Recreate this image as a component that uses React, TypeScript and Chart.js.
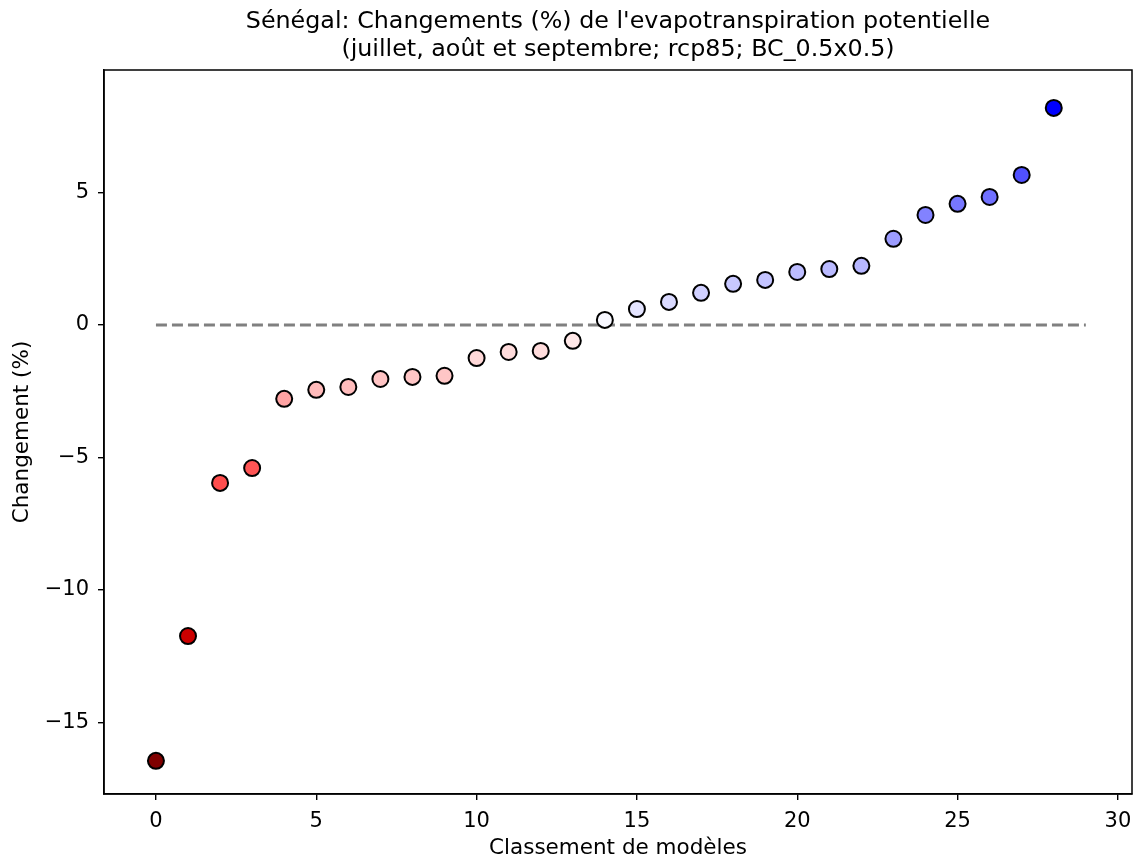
import React, { useEffect, useRef } from 'react';
import { Chart, registerables } from 'chart.js';

Chart.register(...registerables);

const ranks = [0, 1, 2, 3, 4, 5, 6, 7, 8, 9, 10, 11, 12, 13, 14, 15, 16, 17, 18, 19, 20, 21, 22, 23, 24, 25, 26, 27, 28];
const changes = [
  -16.45, -11.74, -5.96, -5.40, -2.79, -2.45, -2.34, -2.04, -1.96, -1.92,
  -1.25, -1.02, -0.98, -0.60, 0.19, 0.60, 0.87, 1.21, 1.55, 1.70,
  2.00, 2.11, 2.23, 3.25, 4.15, 4.57, 4.83, 5.66, 8.19,
];
const pointColors = [
  '#800000', '#cc0000', '#ff4d4d', '#ff5555', '#ffa3a3', '#ffbaba', '#ffbcbc', '#ffc4c4', '#ffc6c6', '#ffc6c6',
  '#ffd8d8', '#ffdcdc', '#ffdcdc', '#ffe8e8', '#f8f8ff', '#e4e4ff', '#dadaff', '#d0d0ff', '#c8c8ff', '#c4c4ff',
  '#bdbdff', '#babaff', '#b6b6ff', '#9c9cff', '#8282ff', '#7777ff', '#7070ff', '#5050ff', '#0000ff',
];
const zeroLineX = [0, 29];
const zeroLineY = [0, 0];
const xTicks = [0, 5, 10, 15, 20, 25, 30];
const yTicks = [-15, -10, -5, 0, 5];
const titleLines = [
  "Sénégal: Changements (%) de l'evapotranspiration potentielle",
  '(juillet, août et septembre; rcp85; BC_0.5x0.5)',
];
const xLabel = 'Classement de modèles';
const yLabel = 'Changement (%)';

const FONT = "'DejaVu Sans', sans-serif";

const fmt = (v: number) => (v < 0 ? '\u2212' + Math.abs(v) : String(v));

export default function App() {
  const ref = useRef<HTMLCanvasElement | null>(null);

  useEffect(() => {
    document.body.style.margin = '0';
    const canvas = ref.current;
    if (!canvas) return;

    const textPlugin = {
      id: 'textPlugin',
      afterDraw(chart: any) {
        const { ctx, chartArea } = chart;
        ctx.save();
        ctx.strokeStyle = '#000';
        ctx.lineWidth = 1.5;
        ctx.strokeRect(chartArea.left, chartArea.top, chartArea.right - chartArea.left, chartArea.bottom - chartArea.top);
        ctx.fillStyle = '#000';
        ctx.textAlign = 'center';
        ctx.textBaseline = 'alphabetic';
        const cx = (chartArea.left + chartArea.right) / 2;
        ctx.font = `23.8px ${FONT}`;
        ctx.fillText(titleLines[0], cx, 28);
        ctx.fillText(titleLines[1], cx, 56);
        ctx.textBaseline = 'middle';
        ctx.font = `21.5px ${FONT}`;
        ctx.fillText(xLabel, cx, 848);
        ctx.translate(22, (chartArea.top + chartArea.bottom) / 2);
        ctx.rotate(-Math.PI / 2);
        ctx.fillText(yLabel, 0, 0);
        ctx.restore();
      },
    };

    const chart = new Chart(canvas, {
      type: 'scatter',
      data: {
        datasets: [
          {
            label: 'points',
            data: ranks.map((r, i) => ({ x: r, y: changes[i] })),
            pointRadius: 8,
            pointHoverRadius: 8,
            pointBackgroundColor: pointColors,
            pointBorderColor: '#000',
            pointBorderWidth: 2,
            showLine: false,
          },
          {
            label: 'zero',
            data: zeroLineX.map((x, i) => ({ x, y: zeroLineY[i] })),
            showLine: true,
            borderColor: '#808080',
            borderWidth: 3,
            borderDash: [11, 5],
            pointRadius: 0,
            fill: false,
          },
        ],
      },
      options: {
        responsive: false,
        animation: false,
        events: [],
        layout: { autoPadding: false, padding: { top: 70, right: 5, left: 0, bottom: 0 } },
        plugins: {
          legend: { display: false },
          tooltip: { enabled: false },
          title: { display: false },
        },
        scales: {
          x: {
            type: 'linear',
            min: -1.62,
            max: 30.44,
            afterBuildTicks: (s: any) => {
              s.ticks = xTicks.map((v) => ({ value: v }));
            },
            afterFit: (s: any) => {
              s.height = 67;
              s.paddingLeft = 0;
              s.paddingRight = 0;
            },
            ticks: {
              callback: (v: any) => fmt(Number(v)),
              font: { family: FONT, size: 21 },
              color: '#000',
              padding: 9,
              maxRotation: 0,
            },
            grid: { drawOnChartArea: false, drawTicks: true, tickLength: 6, color: '#000', lineWidth: 1.4 },
            border: { display: true, color: '#000', width: 1.5 },
          },
          y: {
            type: 'linear',
            min: -17.7,
            max: 9.62,
            afterBuildTicks: (s: any) => {
              s.ticks = yTicks.map((v) => ({ value: v }));
            },
            afterFit: (s: any) => {
              s.width = 104;
              s.paddingTop = 0;
              s.paddingBottom = 0;
            },
            ticks: {
              callback: (v: any) => fmt(Number(v)),
              font: { family: FONT, size: 21 },
              color: '#000',
              padding: 9,
            },
            grid: { drawOnChartArea: false, drawTicks: true, tickLength: 6, color: '#000', lineWidth: 1.4 },
            border: { display: true, color: '#000', width: 1.5 },
          },
        },
      },
      plugins: [textPlugin],
    } as any);

    return () => chart.destroy();
  }, []);

  return (
    <div style={{ width: 1137, height: 861 }}>
      <canvas ref={ref} width={1137} height={861} style={{ display: 'block', width: 1137, height: 861 }} />
    </div>
  );
}
